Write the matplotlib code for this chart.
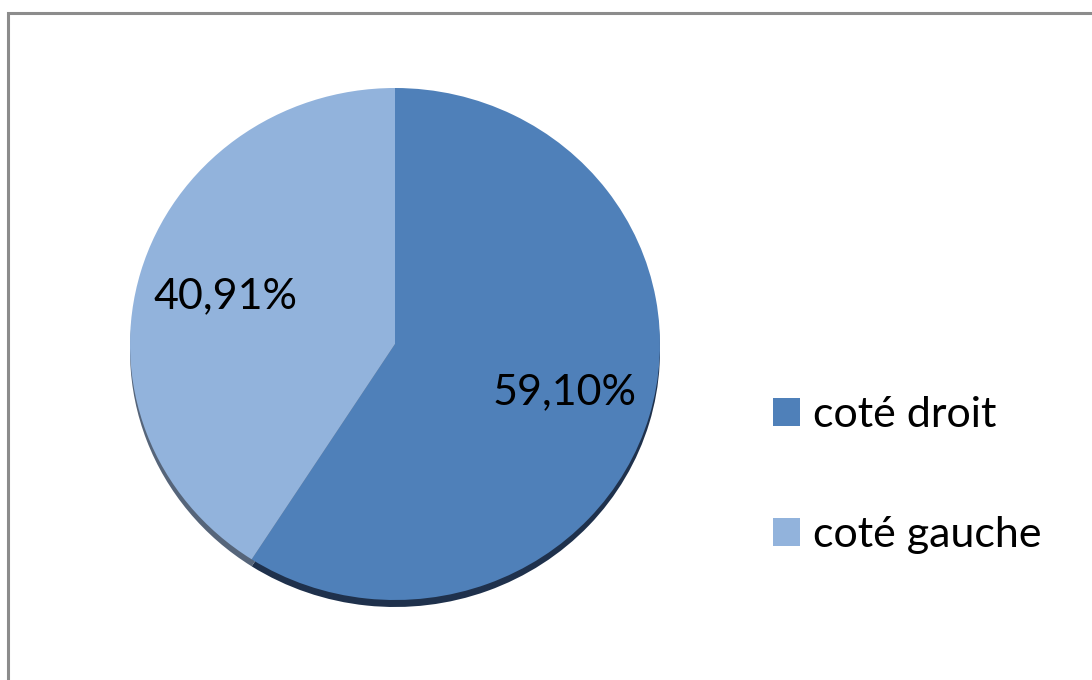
import matplotlib
matplotlib.use('Agg')
import numpy as np
import matplotlib.pyplot as plt
from matplotlib.patches import Rectangle

# share of cases by side
labels = ['coté droit', 'coté gauche']
values = [59.10, 40.91]
colors = ['#4f80b9', '#92b3dc']
shadow_colors = ['#1f314c', '#56657a']

W, H = 1092, 680
fig = plt.figure(figsize=(W / 100, H / 100), dpi=100)
fig.patch.set_facecolor('white')

# outer chart frame (runs off the right and bottom edges)
fig.patches.append(Rectangle((8 / W, -0.1), 1.2, (H - 13) / H + 0.1,
                             transform=fig.transFigure, fill=False,
                             edgecolor='#8c8c8c', linewidth=2.2))

# pie centre at (395, 344) px, radii 265 x 256 px
cx, cy, rx, ry, half = 395, 344, 265, 256, 300
ax = fig.add_axes([(cx - half) / W, (H - cy - half) / H, 2 * half / W, 2 * half / H])

# drop shadow under the pie
ax.pie(values, colors=shadow_colors, startangle=90, counterclock=False,
       center=(0, -7 / ry), radius=1.0, frame=True,
       wedgeprops=dict(linewidth=0))
wedges, _ = ax.pie(values, colors=colors, startangle=90, counterclock=False,
                   radius=1.0, frame=True, wedgeprops=dict(linewidth=0))
ax.set_xlim(-half / rx, half / rx)
ax.set_ylim(-half / ry, half / ry)
ax.set_aspect('auto')
ax.axis('off')

for w, v in zip(wedges, values):
    mid = np.deg2rad((w.theta1 + w.theta2) / 2)
    r = 0.665
    ax.text(r * np.cos(mid), r * np.sin(mid), f'{v:.2f}%'.replace('.', ','),
            ha='center', va='center', fontsize=31, family='Lato', color='black')

fig.legend(wedges, labels, loc='upper left', bbox_to_anchor=(756 / W, 1 - 379 / H),
           frameon=False, prop=dict(family='Lato', size=31),
           handlelength=0.63, handleheight=0.63, handletextpad=0.3,
           labelspacing=1.9, borderaxespad=0)

plt.savefig('out.png', dpi=100)
